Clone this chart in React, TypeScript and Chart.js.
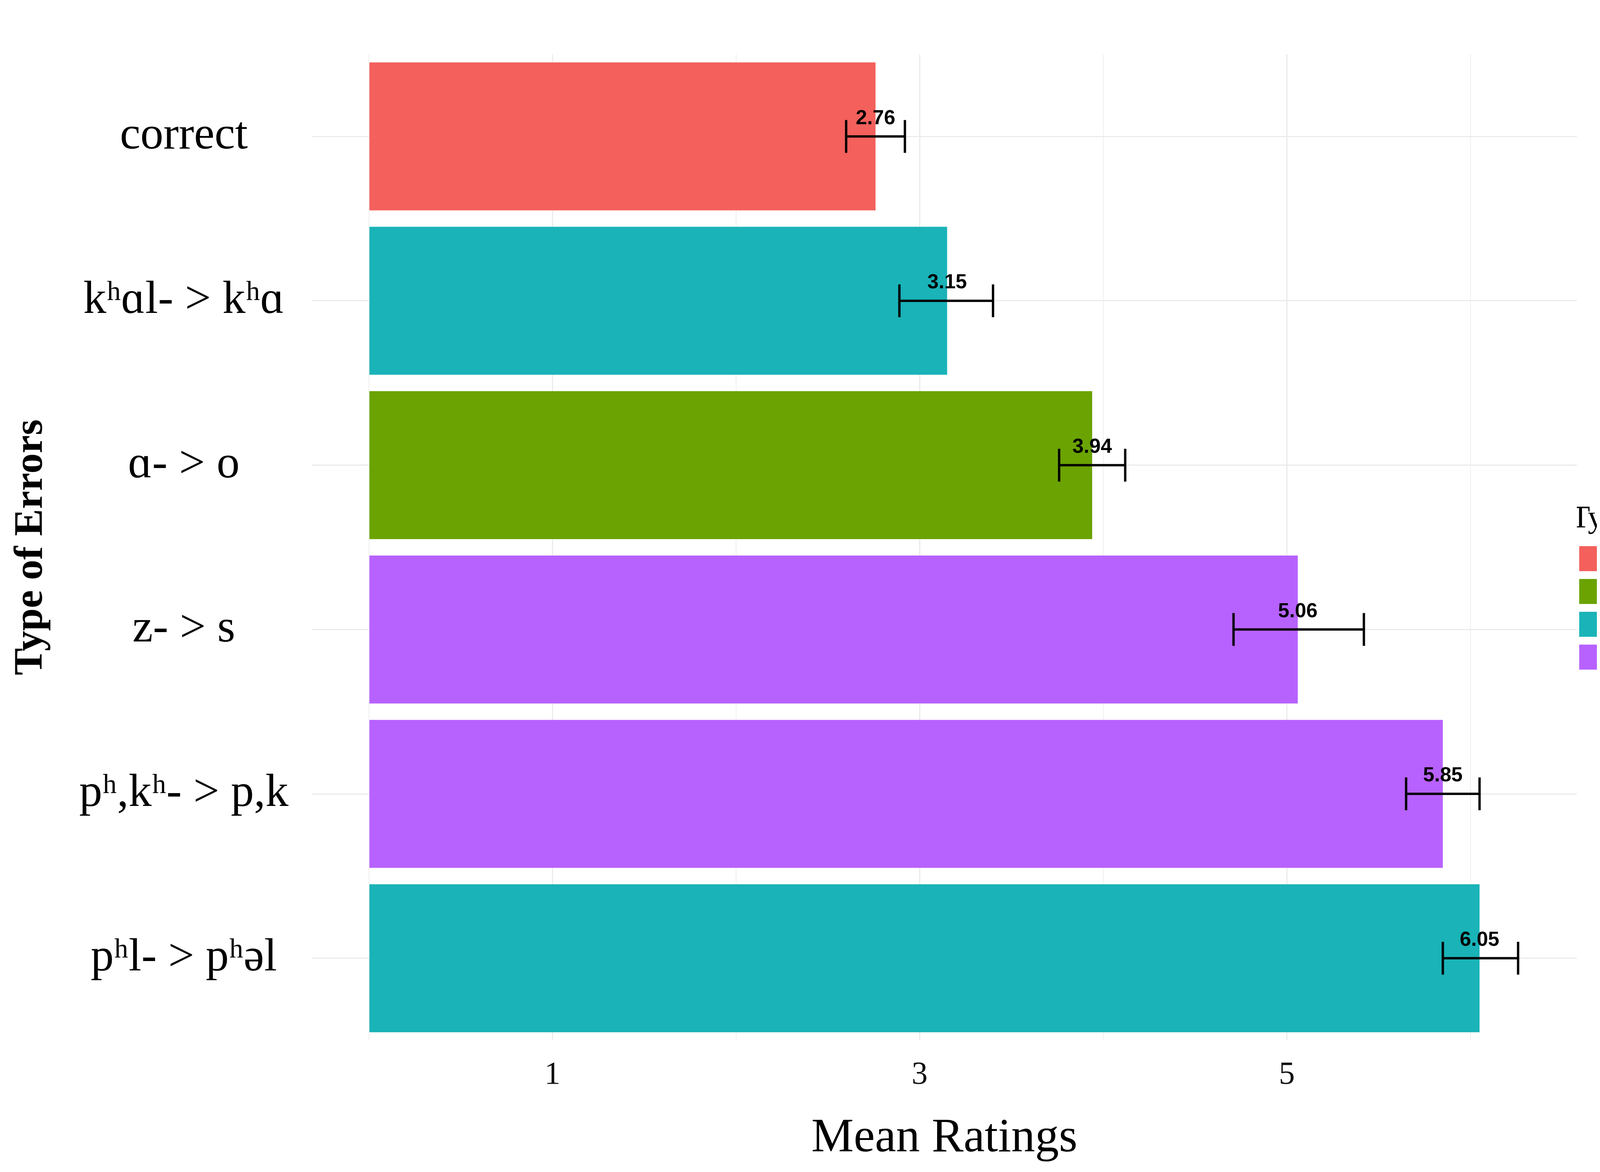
import { useEffect, useRef } from 'react';
import { Chart, registerables } from 'chart.js';

Chart.register(...registerables);

const categories = ['correct', 'kʰɑl- > kʰɑ', 'ɑ- > o', 'z- > s', 'pʰ,kʰ- > p,k', 'pʰl- > pʰəl'];
const means = [2.76, 3.15, 3.94, 5.06, 5.85, 6.05];
const lower = [2.6, 2.89, 3.76, 4.71, 5.65, 5.85];
const upper = [2.92, 3.4, 4.12, 5.42, 6.05, 6.26];
const groups = ['correct', 'syllable', 'vowel', 'consonant', 'consonant', 'syllable'];
const groupNames = ['correct', 'vowel', 'syllable', 'consonant'];
const groupColors: Record<string, string> = {
  correct: '#F4605C',
  vowel: '#6AA302',
  syllable: '#19B3B8',
  consonant: '#B762FE',
};
const xTicks = [0, 1, 2, 3, 4, 5, 6];

const errorBars = {
  id: 'errorBars',
  afterDatasetsDraw(chart: any) {
    const { ctx, scales } = chart;
    const x = scales.x;
    const y = scales.y;
    ctx.save();
    ctx.strokeStyle = '#000';
    ctx.lineWidth = 6;
    categories.forEach((_, i) => {
      const cy = y.getPixelForValue(i);
      const x0 = x.getPixelForValue(lower[i]);
      const x1 = x.getPixelForValue(upper[i]);
      ctx.beginPath();
      ctx.moveTo(x0, cy);
      ctx.lineTo(x1, cy);
      ctx.moveTo(x0, cy - 42);
      ctx.lineTo(x0, cy + 42);
      ctx.moveTo(x1, cy - 42);
      ctx.lineTo(x1, cy + 42);
      ctx.stroke();
      ctx.fillStyle = '#000';
      ctx.font = 'bold 52px "Liberation Sans"';
      ctx.textAlign = 'center';
      ctx.textBaseline = 'bottom';
      ctx.fillText(means[i].toFixed(2), x.getPixelForValue(means[i]), cy - 20);
    });
    ctx.restore();
  },
};

export default function App() {
  const chartRef = useRef<HTMLCanvasElement>(null);

  useEffect(() => {
    if (!chartRef.current) return;
    const chart = new Chart(chartRef.current, {
      type: 'bar',
      data: {
        labels: categories,
        datasets: [
          {
            label: 'Mean Ratings',
            data: means,
            backgroundColor: groups.map((g) => groupColors[g]),
            categoryPercentage: 0.9,
            barPercentage: 1,
          },
        ],
      },
      options: {
        indexAxis: 'y',
        responsive: true,
        maintainAspectRatio: false,
        animation: false,
        layout: { padding: { top: 20, right: 20, bottom: 0, left: 10 } },
        scales: {
          x: {
            min: -0.31,
            max: 6.58,
            afterBuildTicks: (axis: any) => {
              axis.ticks = xTicks.map((v) => ({ value: v }));
            },
            ticks: {
              callback: (v: any) => (Number(v) % 2 === 1 ? String(v) : ''),
              font: { family: '"Liberation Serif"', size: 82 },
              color: '#111',
              padding: 40,
            },
            grid: {
              color: (c: any) => (c.tick && c.tick.value % 2 === 1 ? '#ebebeb' : '#f4f4f4'),
              lineWidth: 3,
              drawTicks: false,
            },
            border: { display: false },
            title: {
              display: true,
              text: 'Mean Ratings',
              font: { family: '"Liberation Serif"', size: 122 },
              color: '#000',
              padding: { top: 0, bottom: 0 },
            },
          },
          y: {
            grid: { offset: false, color: '#ebebeb', lineWidth: 3, drawTicks: false },
            border: { display: false },
            ticks: {
              font: { family: '"Liberation Serif"', size: 118 },
              color: '#000',
              crossAlign: 'center',
              padding: 60,
            },
            title: {
              display: true,
              text: 'Type of Errors',
              font: { family: '"Liberation Serif"', size: 104, weight: 'bold' },
              color: '#000',
              padding: { top: 0, bottom: 0 },
            },
          },
        },
        plugins: {
          tooltip: { enabled: false },
          legend: {
            position: 'right',
            align: 'center',
            title: {
              display: true,
              text: 'Type of Errors',
              font: { family: '"Liberation Serif"', size: 80 },
              color: '#000',
              padding: { top: 0, bottom: 0 },
            },
            labels: {
              boxWidth: 64,
              boxHeight: 64,
              padding: 6,
              font: { family: '"Liberation Serif"', size: 78 },
              color: '#000',
              generateLabels: () =>
                groupNames.map((g) => ({
                  text: g,
                  fillStyle: groupColors[g],
                  strokeStyle: groupColors[g],
                  lineWidth: 0,
                  hidden: false,
                })),
            },
          },
        },
      },
      plugins: [errorBars],
    });
    return () => chart.destroy();
  }, []);

  return (
    <div style={{ width: 4484, height: 2980, position: 'relative' }}>
      <canvas ref={chartRef} />
    </div>
  );
}
